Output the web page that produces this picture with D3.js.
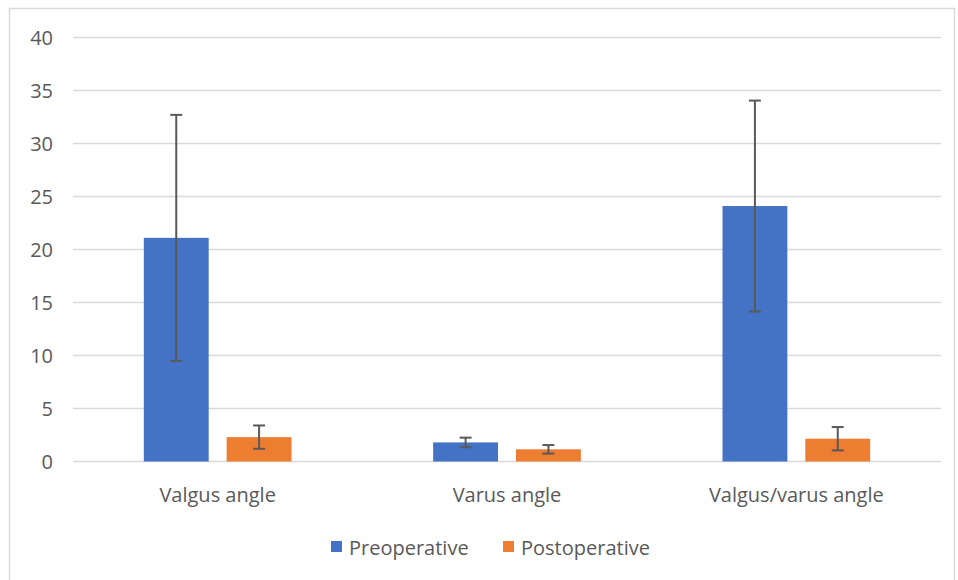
<!DOCTYPE html>
<html>
<head>
<meta charset="utf-8">
<script src="https://cdn.jsdelivr.net/npm/d3@7"></script>
<style>
  body { margin: 0; background: #fff; }
  svg { display: block; }
</style>
</head>
<body>
<div id="chart"></div>
<script>
// chart values
var categories = ["Valgus angle", "Varus angle", "Valgus/varus angle"];
var seriesNames = ["Preoperative", "Postoperative"];
var preValues = [21.1, 1.8, 24.1];
var preErrors = [11.6, 0.45, 9.95];
var postValues = [2.3, 1.15, 2.15];
var postErrors = [1.1, 0.4, 1.1];
var yTicks = [0, 5, 10, 15, 20, 25, 30, 35, 40];

var colors = ["#4472C4", "#ED7D31"];

var width = 958, height = 580;
var margin = {left: 73, right: 17, top: 37.5, bottom: 118.5};
var fontSize = 20;

var svg = d3.select("#chart").append("svg")
    .attr("width", width)
    .attr("height", height);

// outer chart border
svg.append("rect")
    .attr("x", 9.5).attr("y", 8.5)
    .attr("width", 945).attr("height", 575)
    .attr("fill", "#fff")
    .attr("stroke", "#d9d9d9")
    .attr("stroke-width", 1.5);

var x = d3.scaleBand()
    .domain(categories)
    .range([margin.left, width - margin.right])
    .paddingInner(0)
    .paddingOuter(0);

var y = d3.scaleLinear()
    .domain([0, 40])
    .range([height - margin.bottom, margin.top]);

// gridlines
svg.append("g").selectAll("line")
    .data(yTicks)
    .join("line")
    .attr("x1", margin.left).attr("x2", width - margin.right)
    .attr("y1", d => y(d)).attr("y2", d => y(d))
    .attr("stroke", "#d9d9d9")
    .attr("stroke-width", 1.5);

// y tick labels
svg.append("g").selectAll("text")
    .data(yTicks)
    .join("text")
    .attr("x", 53)
    .attr("y", d => y(d))
    .attr("text-anchor", "end")
    .attr("dominant-baseline", "central")
    .attr("font-family", "'Open Sans', sans-serif")
    .attr("font-size", fontSize)
    .attr("fill", "#595959")
    .text(d => d);

var x1 = d3.scaleBand()
    .domain(seriesNames)
    .range([0, x.bandwidth()])
    .paddingOuter(0.855)
    .paddingInner(0.217);

var rows = [];
categories.forEach(function (c, i) {
    rows.push({cat: c, s: 0, v: preValues[i], e: preErrors[i]});
    rows.push({cat: c, s: 1, v: postValues[i], e: postErrors[i]});
});

// bars
svg.append("g").selectAll("rect")
    .data(rows)
    .join("rect")
    .attr("x", d => x(d.cat) + x1(seriesNames[d.s]))
    .attr("y", d => y(d.v))
    .attr("width", x1.bandwidth())
    .attr("height", d => y(0) - y(d.v))
    .attr("fill", d => colors[d.s]);

// error bars
var eb = svg.append("g")
    .attr("stroke", "#595959")
    .attr("stroke-width", 2);
rows.forEach(function (d) {
    var cx = x(d.cat) + x1(seriesNames[d.s]) + x1.bandwidth() / 2;
    eb.append("line")
        .attr("x1", cx).attr("x2", cx)
        .attr("y1", y(d.v + d.e)).attr("y2", y(d.v - d.e));
    [d.v + d.e, d.v - d.e].forEach(function (v) {
        eb.append("line")
            .attr("x1", cx - 6).attr("x2", cx + 6)
            .attr("y1", y(v)).attr("y2", y(v));
    });
});

// category labels
svg.append("g").selectAll("text")
    .data(categories)
    .join("text")
    .attr("x", d => x(d) + x.bandwidth() / 2)
    .attr("y", 494)
    .attr("text-anchor", "middle")
    .attr("dominant-baseline", "central")
    .attr("font-family", "'Open Sans', sans-serif")
    .attr("font-size", fontSize)
    .attr("fill", "#595959")
    .text(d => d);

// legend
var legendX = [331, 503];
seriesNames.forEach(function (s, i) {
    svg.append("rect")
        .attr("x", legendX[i]).attr("y", 541)
        .attr("width", 11).attr("height", 11)
        .attr("fill", colors[i]);
    svg.append("text")
        .attr("x", legendX[i] + 18)
        .attr("y", 547)
        .attr("dominant-baseline", "central")
        .attr("font-family", "'Open Sans', sans-serif")
        .attr("font-size", fontSize)
        .attr("fill", "#595959")
        .text(s);
});
</script>
</body>
</html>
